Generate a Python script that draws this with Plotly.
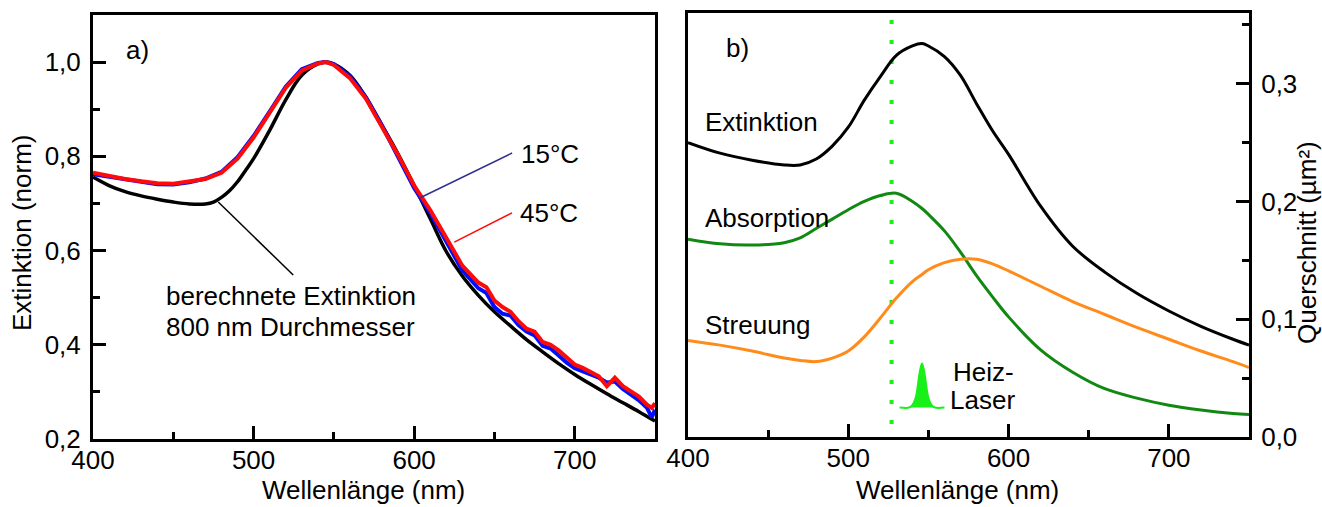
import plotly.graph_objects as go

W, H = 1322, 507
FONT = "Liberation Sans, Arial, Helvetica, sans-serif"
FS = 26

# ---------------- Panel a): normalised extinction spectra ----------------
wl_meas = [400, 410, 420, 430, 440, 450, 460, 470, 480, 490, 500, 510, 520, 530, 540,
           545, 550, 560, 570, 580, 590, 600, 610, 620, 630, 640, 645, 650, 655, 660,
           665, 670, 675, 680, 685, 690, 695, 700, 705, 710, 715, 720, 725, 730, 735,
           740, 745, 748, 750]
ext_15C = [0.762, 0.757, 0.750, 0.745, 0.741, 0.740, 0.745, 0.753, 0.767, 0.798, 0.843,
           0.895, 0.948, 0.985, 0.998, 1.000, 0.996, 0.970, 0.925, 0.865, 0.800, 0.733,
           0.680, 0.620, 0.558, 0.520, 0.510, 0.480, 0.466, 0.462, 0.442, 0.428, 0.420,
           0.398, 0.392, 0.377, 0.362, 0.350, 0.344, 0.336, 0.330, 0.320, 0.322, 0.306,
           0.295, 0.282, 0.266, 0.246, 0.262]
ext_45C = [0.765, 0.758, 0.752, 0.747, 0.743, 0.742, 0.746, 0.752, 0.765, 0.795, 0.840,
           0.892, 0.945, 0.982, 0.997, 1.000, 0.994, 0.966, 0.922, 0.862, 0.803, 0.738,
           0.686, 0.627, 0.568, 0.532, 0.522, 0.494, 0.480, 0.470, 0.450, 0.434, 0.428,
           0.406, 0.400, 0.388, 0.372, 0.358, 0.351, 0.342, 0.333, 0.312, 0.330, 0.312,
           0.302, 0.290, 0.273, 0.266, 0.276]

wl_calc = [400, 410, 420, 430, 440, 450, 460, 470, 475, 480, 485, 490, 495, 500, 510,
           520, 530, 540, 545, 550, 560, 570, 580, 590, 600, 610, 620, 630, 640, 650,
           660, 670, 680, 690, 700, 710, 720, 730, 740, 750]
ext_calc = [0.756, 0.738, 0.725, 0.716, 0.709, 0.703, 0.699, 0.699, 0.703, 0.713, 0.727,
            0.746, 0.770, 0.795, 0.855, 0.920, 0.972, 0.996, 1.000, 0.996, 0.972, 0.925,
            0.866, 0.805, 0.738, 0.668, 0.598, 0.546, 0.505, 0.470, 0.440, 0.411, 0.385,
            0.360, 0.337, 0.316, 0.296, 0.277, 0.258, 0.238]

# ---------------- Panel b): cross sections (µm²) ----------------
wl_b = [400, 420, 440, 460, 470, 480, 490, 500, 510, 520, 530, 540, 546, 550, 560, 570,
        580, 590, 600, 620, 640, 660, 680, 700, 720, 740, 750]
q_ext = [0.250, 0.241, 0.235, 0.231, 0.231, 0.236, 0.247, 0.263, 0.286, 0.306, 0.324,
         0.332, 0.334, 0.332, 0.323, 0.307, 0.283, 0.260, 0.240, 0.196, 0.162, 0.140,
         0.122, 0.107, 0.094, 0.083, 0.078]
q_abs = [0.168, 0.164, 0.163, 0.165, 0.169, 0.177, 0.185, 0.193, 0.200, 0.205, 0.207,
         0.200, 0.194, 0.189, 0.175, 0.157, 0.137, 0.119, 0.102, 0.074, 0.055, 0.041,
         0.033, 0.027, 0.023, 0.020, 0.019]
q_sca = [0.082, 0.078, 0.073, 0.067, 0.065, 0.064, 0.067, 0.073, 0.085, 0.101, 0.118,
         0.132, 0.138, 0.142, 0.148, 0.151, 0.151, 0.147, 0.141, 0.128, 0.115, 0.104,
         0.093, 0.083, 0.073, 0.064, 0.059]

laser_line_nm = 527
laser_nm = [532, 538, 540, 542, 543, 544, 545, 546, 547, 548, 549, 550, 552, 554, 560]
laser_lvl = [0.025, 0.025, 0.027, 0.033, 0.040, 0.050, 0.058, 0.0625, 0.058, 0.050,
             0.040, 0.033, 0.027, 0.025, 0.025]

x_ticks = [400, 500, 600, 700]


def px(x):
    return x / W


def py(y):
    return 1 - y / H


fig = go.Figure()

# panel a traces
fig.add_trace(go.Scatter(x=wl_calc, y=ext_calc, mode="lines", line=dict(color="black", width=3.5, shape="spline"),
                         xaxis="x", yaxis="y"))
fig.add_trace(go.Scatter(x=wl_meas, y=ext_15C, mode="lines", line=dict(color="#0010ff", width=4),
                         xaxis="x", yaxis="y"))
fig.add_trace(go.Scatter(x=wl_meas, y=ext_45C, mode="lines", line=dict(color="#ff0a0a", width=4),
                         xaxis="x", yaxis="y"))

# panel b traces
fig.add_trace(go.Scatter(x=[laser_line_nm, laser_line_nm], y=[0.354, 0.0], mode="lines",
                         line=dict(color="#19f019", width=4, dash="4px,16px"), xaxis="x2", yaxis="y2"))
fig.add_trace(go.Scatter(x=wl_b, y=q_ext, mode="lines", line=dict(color="black", width=3, shape="spline"),
                         xaxis="x2", yaxis="y2"))
fig.add_trace(go.Scatter(x=wl_b, y=q_abs, mode="lines", line=dict(color="#118811", width=3, shape="spline"),
                         xaxis="x2", yaxis="y2"))
fig.add_trace(go.Scatter(x=wl_b, y=q_sca, mode="lines", line=dict(color="#ff8c1a", width=3, shape="spline"),
                         xaxis="x2", yaxis="y2"))
fig.add_trace(go.Scatter(x=laser_nm, y=laser_lvl, mode="lines", fill="toself", fillcolor="#19f019",
                         line=dict(color="#19f019", width=2, shape="spline"), xaxis="x2", yaxis="y2"))

axis_common = dict(
    showline=True, linecolor="black", linewidth=3, mirror=True,
    ticks="inside", tickwidth=3, ticklen=13, tickcolor="black",
    showgrid=False, zeroline=False, automargin=False,
    tickfont=dict(family=FONT, size=FS, color="black"),
)

fig.update_layout(
    width=W, height=H,
    margin=dict(l=0, r=0, t=0, b=0, pad=0),
    paper_bgcolor="white", plot_bgcolor="white",
    showlegend=False,
    separators=",.",
    font=dict(family=FONT, size=FS, color="black"),
    xaxis=dict(axis_common, domain=[px(93), px(655)], range=[400, 750], tickvals=x_ticks,
               minor=dict(ticks="inside", ticklen=7, tickwidth=3, tickcolor="black", dtick=50),
               anchor="y", ticklabelstandoff=-4),
    yaxis=dict(axis_common, domain=[py(439), py(15)], range=[0.2, 1.1], dtick=0.2, tick0=0.2,
               tickformat=".1f",
               minor=dict(ticks="inside", ticklen=7, tickwidth=3, tickcolor="black", dtick=0.1),
               anchor="x", ticklabelstandoff=4),
    xaxis2=dict(axis_common, domain=[px(688), px(1249)], range=[400, 750], tickvals=x_ticks,
                minor=dict(ticks="inside", ticklen=7, tickwidth=3, tickcolor="black", dtick=50),
                anchor="y2", ticklabelstandoff=-4),
    yaxis2=dict(axis_common, domain=[py(437), py(13)], range=[0, 0.36], dtick=0.1, tick0=0,
                tickformat=".1f", side="right",
                minor=dict(ticks="inside", ticklen=7, tickwidth=3, tickcolor="black", dtick=0.05),
                anchor="x2", ticklabelstandoff=4),
)

# leader lines in panel a
fig.add_shape(type="line", xref="x", yref="y", x0=478, y0=0.703, x1=524.7, y1=0.548,
              line=dict(color="black", width=1.5))
fig.add_shape(type="line", xref="x", yref="y", x0=603.8, y0=0.712, x1=661, y1=0.807,
              line=dict(color="#303090", width=1.5))
fig.add_shape(type="line", xref="x", yref="y", x0=625, y0=0.618, x1=661, y1=0.68,
              line=dict(color="#ff0a0a", width=1.5))


def label(text, x, y, xanchor="left", angle=0, yanchor="middle"):
    fig.add_annotation(text=text, xref="paper", yref="paper", x=px(x), y=py(y),
                       xanchor=xanchor, yanchor=yanchor, showarrow=False, textangle=angle,
                       font=dict(family=FONT, size=FS, color="black"))


label("a)", 124, 50)
label("15°C", 519, 154)
label("45°C", 518, 213)
label("berechnete Extinktion", 164, 296)
label("800 nm Durchmesser", 164, 327)
label("b)", 724, 48)
label("Extinktion", 703, 122)
label("Absorption", 703, 218)
label("Streuung", 703, 325)
label("Heiz-", 983, 372, xanchor="center")
label("Laser", 982, 400, xanchor="center")

label("Wellenlänge (nm)", 363, 507, xanchor="center", yanchor="bottom")
label("Wellenlänge (nm)", 957, 507, xanchor="center", yanchor="bottom")
label("Extinktion (norm)", 22, 233, xanchor="center", angle=-90)
label("Querschnitt (µm²)", 1307, 243, xanchor="center", angle=-90)

fig.write_html("out.html")
